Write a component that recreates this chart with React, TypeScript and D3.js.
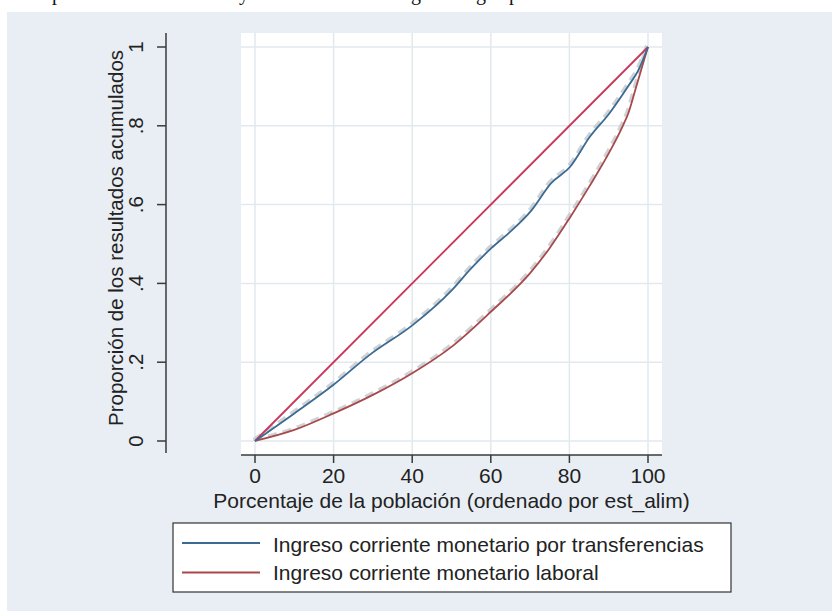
import React from "react";
import * as d3 from "d3";

const W = 832;
const H = 611;

const xTicks = [0, 20, 40, 60, 80, 100];
const yTicks = [0, 0.2, 0.4, 0.6, 0.8, 1];
const yTickLabels = ["0", ".2", ".4", ".6", ".8", "1"];

const diagX = [0, 100];
const diagY = [0, 1];

const transfX = [0, 10, 19.9, 29.1, 40.1, 50.1, 55, 60.2, 64.5, 70.4, 75.3, 80.2, 85.2, 90.2, 95.2, 97.5, 100];
const transfY = [0, 0.07, 0.142, 0.218, 0.294, 0.383, 0.438, 0.49, 0.527, 0.586, 0.654, 0.696, 0.772, 0.832, 0.904, 0.94, 1];

const laboralX = [0, 10, 20, 30, 40, 50, 60, 70, 75, 80, 85, 90, 93.6, 95, 97, 99, 100];
const laboralY = [0, 0.028, 0.07, 0.117, 0.172, 0.239, 0.328, 0.426, 0.49, 0.565, 0.645, 0.73, 0.8, 0.832, 0.899, 0.967, 1];

const legendLabels = [
  "Ingreso corriente monetario por transferencias",
  "Ingreso corriente monetario laboral",
];

const topLetters = ["p", "y", "g", "g", "p"];
const topLetterPos = [57, 244, 416, 481, 514];

const COLORS = {
  diag: "#c8375a",
  blue: "#3b6b93",
  red: "#a8494b",
  grid: "#e2e9ee",
  panel: "#e8eef4",
  axis: "#3a3a3a",
  text: "#222222",
  halo: "#c4c8cc",
};

const FONT = "'Liberation Sans', Arial, sans-serif";

export default function App() {
  const x = d3.scaleLinear().domain([0, 100]).range([255, 648]);
  const y = d3.scaleLinear().domain([0, 1]).range([441, 47]);

  const plotLeft = 241, plotRight = 662, plotTop = 33, plotBottom = 455;
  const yAxisX = 166;

  const mk = (xs: number[], ys: number[]) =>
    d3
      .line<number>()
      .x((_, i) => x(xs[i]))
      .y((_, i) => y(ys[i]))
      .curve(d3.curveMonotoneX)(xs as any) as string;

  const diagPath = mk(diagX, diagY);
  const transfPath = mk(transfX, transfY);
  const laboralPath = mk(laboralX, laboralY);

  const legendColors = [COLORS.blue, COLORS.red];
  const yMid = (y(0) + y(1)) / 2 - 6;

  return (
    <svg
      width={W}
      height={H}
      style={{ position: "absolute", left: 0, top: 0, display: "block" }}
      fontFamily={FONT}
    >
      <rect x={0} y={0} width={W} height={H} fill="#ffffff" />
      {topLetters.map((l, i) => (
        <text
          key={i}
          x={topLetterPos[i]}
          y={0}
          fontFamily="'Liberation Serif', 'Times New Roman', serif"
          fontSize={20}
          fill="#111"
          textAnchor="middle"
        >
          {l}
        </text>
      ))}
      <rect x={7} y={12} width={W - 7} height={H - 12} fill={COLORS.panel} />

      {/* plot region */}
      <rect x={plotLeft} y={plotTop} width={plotRight - plotLeft} height={plotBottom - plotTop} fill="#ffffff" />
      {xTicks.map((t) => (
        <line key={"gx" + t} x1={x(t)} x2={x(t)} y1={plotTop} y2={plotBottom} stroke={COLORS.grid} strokeWidth={1.5} />
      ))}
      {yTicks.map((t) => (
        <line key={"gy" + t} x1={plotLeft} x2={plotRight} y1={y(t)} y2={y(t)} stroke={COLORS.grid} strokeWidth={1.5} />
      ))}

      {/* halo dashed lines */}
      <g transform="translate(-1.5,-1.5)" fill="none" stroke={COLORS.halo} strokeWidth={3} strokeDasharray="9 6" opacity={0.8}>
        <path d={transfPath} />
        <path d={laboralPath} />
      </g>

      <path d={diagPath} fill="none" stroke={COLORS.diag} strokeWidth={1.8} />
      <path d={laboralPath} fill="none" stroke={COLORS.red} strokeWidth={1.8} />
      <path d={transfPath} fill="none" stroke={COLORS.blue} strokeWidth={1.8} />

      {/* y axis */}
      <line x1={yAxisX} x2={yAxisX} y1={33} y2={453} stroke={COLORS.axis} strokeWidth={1.5} />
      {yTicks.map((t, i) => (
        <g key={"yt" + t}>
          <line x1={yAxisX - 9} x2={yAxisX} y1={y(t)} y2={y(t)} stroke={COLORS.axis} strokeWidth={1.5} />
          <text
            x={143}
            y={y(t)}
            transform={`rotate(-90, 143, ${y(t)})`}
            textAnchor="middle"
            fontSize={20.5}
            fill={COLORS.text}
          >
            {yTickLabels[i]}
          </text>
        </g>
      ))}
      <text
        x={123}
        y={yMid}
        transform={`rotate(-90, 123, ${yMid})`}
        textAnchor="middle"
        fontSize={20.5}
        fill={COLORS.text}
      >
        Proporción de los resultados acumulados
      </text>

      {/* x axis */}
      <line x1={plotLeft} x2={plotRight} y1={plotBottom} y2={plotBottom} stroke={COLORS.axis} strokeWidth={1.5} />
      {xTicks.map((t) => (
        <g key={"xt" + t}>
          <line x1={x(t)} x2={x(t)} y1={plotBottom} y2={plotBottom + 8} stroke={COLORS.axis} strokeWidth={1.5} />
          <text x={x(t)} y={483} textAnchor="middle" fontSize={21} fill={COLORS.text}>
            {t}
          </text>
        </g>
      ))}
      <text x={(plotLeft + plotRight) / 2} y={508} textAnchor="middle" fontSize={21} fill={COLORS.text}>
        Porcentaje de la población (ordenado por est_alim)
      </text>

      {/* legend */}
      <rect x={173} y={523} width={558} height={69} fill="#ffffff" stroke="#333" strokeWidth={1.2} />
      {legendLabels.map((lab, i) => (
        <g key={lab}>
          <line x1={182} x2={260} y1={543 + i * 29.5} y2={543 + i * 29.5} stroke={legendColors[i]} strokeWidth={1.8} />
          <text x={273} y={552 + i * 28} fontSize={21} fill={COLORS.text}>
            {lab}
          </text>
        </g>
      ))}
    </svg>
  );
}
